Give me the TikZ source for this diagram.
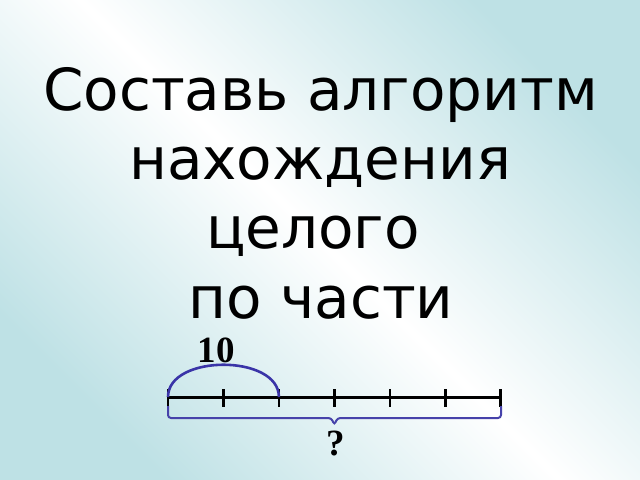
\documentclass[tikz,border=0pt]{standalone}
\usepackage{fontspec}
\newfontfamily\dejavu{DejaVu Sans}
\newfontfamily\libserif{Liberation Serif}
\definecolor{bgteal}{RGB}{190,225,229}
\definecolor{arcblue}{RGB}{58,52,168}
\definecolor{braceblue}{RGB}{70,66,170}
\tikzset{
  title/.style={anchor=base, inner sep=0pt, font=\dejavu\fontsize{58bp}{67bp}\selectfont, text=black},
  lbl/.style={anchor=base, inner sep=0pt, font=\libserif\bfseries\fontsize{37bp}{40bp}\selectfont, text=black},
  axisline/.style={line width=3bp, black},
  tickmark/.style={line width=2.5bp, black},
  partarc/.style={line width=2.6bp, arcblue},
  wholebrace/.style={line width=2bp, braceblue, rounded corners=3bp}
}
\begin{document}
\begin{tikzpicture}[x=1bp, y=-1bp]
\shade[top color=bgteal, bottom color=bgteal, middle color=white, shading angle=-45] (0,0) rectangle (640,480);
\useasboundingbox (0,0) rectangle (640,480);
\node[title] (l1) at (320.5,111) {Составь алгоритм};
\node[title] (l2) at (320,180) {нахождения};
\node[title] (l3) at (313,249) {целого};
\node[title] (l4) at (321,318) {по части};
\foreach \i in {0,...,6} {
  \coordinate (t\i) at ({168+55.45*\i},397);
  \coordinate (tt\i) at ({168+55.45*\i},389);
  \coordinate (tb\i) at ({168+55.45*\i},407);
}
\draw[axisline] (t0) -- (t6);
\foreach \i in {0,...,6} { \draw[tickmark] (tt\i) -- (tb\i); }
\draw[partarc] (t0) .. controls (168,354) and (279,354) .. (t2);
\coordinate (bl) at (168,406);
\coordinate (br) at (501,406);
\coordinate (bm) at (t3 |- 0,425);
\draw[wholebrace] (bl) |- ([xshift=-3bp]bm |- 0,418) -- (bm) -- ([xshift=3bp]bm |- 0,418) -| (br);
\node[lbl] (ten) at (216,362) {10};
\node[lbl] (q) at (336,455) {?};
\end{tikzpicture}
\end{document}
